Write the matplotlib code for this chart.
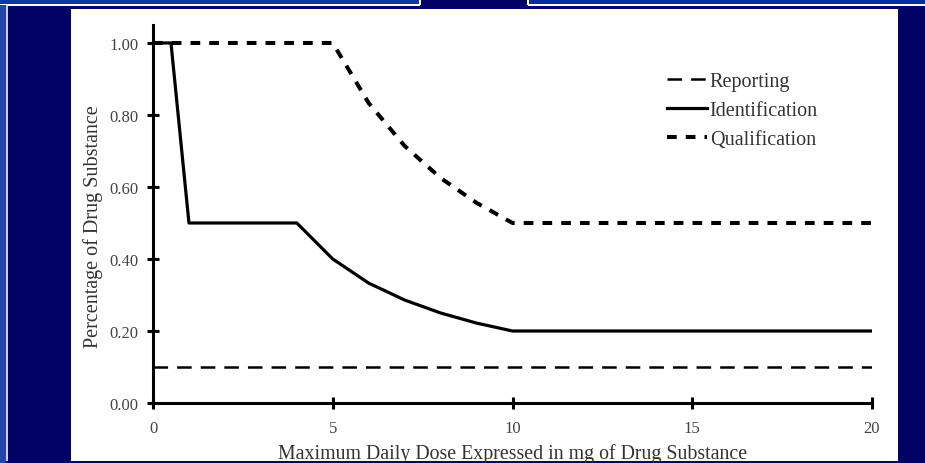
import numpy as np
import matplotlib
matplotlib.use("Agg")
import matplotlib.pyplot as plt
from matplotlib.patches import Rectangle

# data (dose in mg, threshold in %)
report_x = [0, 20]
report_y = [0.10, 0.10]

ident_x = [0, 0.5, 1, 4, 5, 6, 7, 8, 9, 10, 20]
ident_y = [1.00, 1.00, 0.50, 0.50, 0.40, 0.333, 0.286, 0.25, 0.222, 0.20, 0.20]

qual_x = [0, 5, 6, 7, 8, 9, 10, 20]
qual_y = [1.00, 1.00, 0.833, 0.714, 0.625, 0.556, 0.50, 0.50]

x_ticks = [0, 5, 10, 15, 20]
y_ticks = [0.0, 0.2, 0.4, 0.6, 0.8, 1.0]

W, H = 925, 464
plt.rcParams['font.family'] = ['Liberation Serif', 'DejaVu Serif']
plt.rcParams['lines.scale_dashes'] = False

fig = plt.figure(figsize=(W / 100, H / 100), dpi=100, facecolor='#020264')


def box(x, y, w, h, color):
    # rectangle given in picture pixels (top-left origin)
    fig.add_artist(Rectangle((x / W, 1 - (y + h) / H), w / W, h / H,
                             transform=fig.transFigure, color=color, lw=0, zorder=0))


# slide decoration
box(0, 0, 420, 5, '#1234a4')
box(528, 0, 397, 5, '#0c2aa6')
box(0, 5, 420, 1.5, 'white')
box(528, 5, 397, 1.5, 'white')
box(419, 0, 1.5, 6, 'white')
box(527, 0, 1.5, 6, 'white')
box(0, 6, 6, 458, '#2444ac')
box(6, 6, 1.5, 456, '#c8d0e8')
box(71, 10, 827, 452, 'white')

ax = fig.add_axes([153 / W, 60 / H, 719 / W, 0.8147])
ax.patch.set_alpha(0)

ax.plot(report_x, report_y, color='black', lw=1.8, dashes=(10.5, 6.5), label='Reporting')
ax.plot(ident_x, ident_y, color='black', lw=2.3, label='Identification')
ax.plot(qual_x, qual_y, color='black', lw=2.9, dashes=(7, 6.5), label='Qualification')

ax.set_xlim(0, 20)
ax.set_ylim(0, 1.05)
ax.set_xticks(x_ticks)
ax.set_yticks(y_ticks)
ax.set_yticklabels(['%.2f' % v for v in y_ticks])
for s in ['top', 'right']:
    ax.spines[s].set_visible(False)
for s in ['left', 'bottom']:
    ax.spines[s].set_linewidth(2.2)
ax.tick_params(direction='inout', length=8.5, width=2.2, labelsize=12,
               labelcolor='#444444', pad=6)
ax.tick_params(axis='x', pad=8)

ax.set_xlabel('Maximum Daily Dose Expressed in mg of Drug Substance',
              fontsize=14.3, color='#333333', labelpad=5)
ax.set_ylabel('Percentage of Drug Substance', fontsize=14.5, color='#333333')
ax.yaxis.set_label_coords(-0.07, 0.47)

ax.legend(loc='upper left', bbox_to_anchor=(659 / W, 1 - 65 / H),
          bbox_transform=fig.transFigure, frameon=False, fontsize=14.5,
          handlelength=2.0, handletextpad=0.12, labelspacing=0.5,
          labelcolor='#333333', borderaxespad=0)

fig.savefig('out.png', dpi=100, facecolor=fig.get_facecolor())
